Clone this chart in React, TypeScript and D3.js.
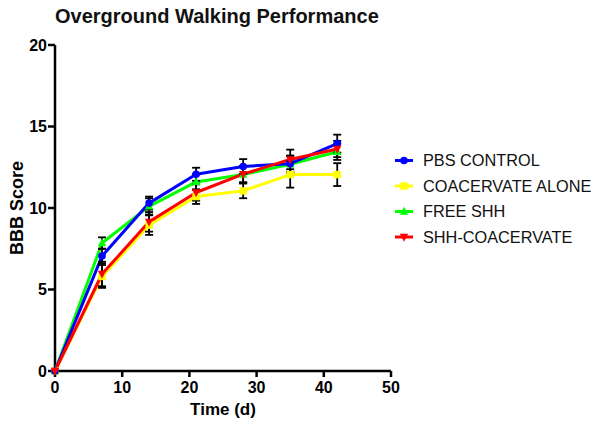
import React from "react";
import * as d3 from "d3";

const days = [0, 7, 14, 21, 28, 35, 42];
const seriesNames = ["PBS CONTROL", "COACERVATE ALONE", "FREE SHH", "SHH-COACERVATE"];
const pbsValues = [0, 7.05, 10.3, 12.07, 12.55, 12.72, 13.95];
const pbsErr = [0, 0.45, 0.4, 0.4, 0.45, 0.5, 0.55];
const coacValues = [0, 5.8, 8.95, 10.7, 11.05, 12.05, 12.05];
const coacErr = [0, 0.7, 0.6, 0.45, 0.45, 0.8, 0.7];
const shhValues = [0, 7.85, 10.1, 11.6, 12.05, 12.68, 13.45];
const shhErr = [0, 0.35, 0.5, 0.5, 0.5, 0.5, 0.5];
const shhCoacValues = [0, 5.95, 9.15, 10.95, 12.08, 12.98, 13.62];
const shhCoacErr = [0, 0.75, 0.6, 0.5, 0.5, 0.6, 0.5];
const xTicks = [0, 10, 20, 30, 40, 50];
const yTicks = [0, 5, 10, 15, 20];

const colors = ["#0000ff", "#ffff00", "#00ff00", "#ff0000"];
const shapes = ["circle", "square", "triUp", "triDown"];

export default function App() {
  const x = d3.scaleLinear().domain([0, 50]).range([55, 391]);
  const y = d3.scaleLinear().domain([0, 20]).range([371, 45]);
  const allVals = [pbsValues, coacValues, shhValues, shhCoacValues];
  const allErr = [pbsErr, coacErr, shhErr, shhCoacErr];
  const line = d3.line<number>().x((_, i) => x(days[i])).y((v) => y(v));
  const drawOrder = [1, 2, 0, 3];
  const font = "Arial, 'Liberation Sans', Helvetica, sans-serif";

  const marker = (shape: string, cx: number, cy: number, color: string, key: string) => {
    const s = 4.2;
    if (shape === "circle") return <circle key={key} cx={cx} cy={cy} r={3.8} fill={color} />;
    if (shape === "square") return <rect key={key} x={cx - 3.7} y={cy - 3.7} width={7.4} height={7.4} fill={color} />;
    if (shape === "triUp")
      return <path key={key} d={`M${cx},${cy - s - 0.5}L${cx + s},${cy + s - 1}L${cx - s},${cy + s - 1}Z`} fill={color} />;
    return <path key={key} d={`M${cx},${cy + s + 0.5}L${cx + s},${cy - s + 1}L${cx - s},${cy - s + 1}Z`} fill={color} />;
  };

  return (
    <svg width={602} height={428} style={{ position: "absolute", left: 0, top: 0, background: "#fff" }} fontFamily={font}>
      <rect width={602} height={428} fill="#fff" />
      <text x={55} y={23} fontSize={20} fontWeight="bold" fill="#111">Overground Walking Performance</text>
      {/* axes */}
      <line x1={55} y1={y(20)} x2={55} y2={y(0)} stroke="#000" strokeWidth={2.5} />
      <line x1={55} y1={y(0)} x2={x(50)} y2={y(0)} stroke="#000" strokeWidth={2.5} />
      {yTicks.map((t) => (
        <g key={"y" + t}>
          <line x1={48} x2={55} y1={y(t)} y2={y(t)} stroke="#000" strokeWidth={2.5} />
          <text x={47} y={y(t)} dy="0.36em" textAnchor="end" fontSize={16} fontWeight="bold">{t}</text>
        </g>
      ))}
      {xTicks.map((t) => (
        <g key={"x" + t}>
          <line x1={x(t)} x2={x(t)} y1={y(0)} y2={y(0) + 6} stroke="#000" strokeWidth={2.5} />
          <text x={x(t)} y={393} textAnchor="middle" fontSize={16} fontWeight="bold">{t}</text>
        </g>
      ))}
      <text x={223} y={415} textAnchor="middle" fontSize={17} fontWeight="bold">Time (d)</text>
      <text transform={`translate(23,${y(10)}) rotate(-90)`} textAnchor="middle" fontSize={18} fontWeight="bold">BBB Score</text>
      {/* lines */}
      {drawOrder.map((si) => (
        <path key={"l" + si} d={line(allVals[si]) || ""} fill="none" stroke={colors[si]} strokeWidth={3} strokeLinejoin="round" />
      ))}
      {/* error bars */}
      {drawOrder.map((si) =>
        allVals[si].map((v, i) => {
          const e = allErr[si][i];
          if (!e) return null;
          const cx = x(days[i]);
          return (
            <g key={"e" + si + "-" + i} stroke="#000" strokeWidth={1.8}>
              <line x1={cx} x2={cx} y1={y(v + e)} y2={y(v - e)} />
              <line x1={cx - 4} x2={cx + 4} y1={y(v + e)} y2={y(v + e)} />
              <line x1={cx - 4} x2={cx + 4} y1={y(v - e)} y2={y(v - e)} />
            </g>
          );
        })
      )}
      {/* markers */}
      {drawOrder.map((si) =>
        allVals[si].map((v, i) => marker(shapes[si], x(days[i]), y(v), colors[si], "m" + si + "-" + i))
      )}
      {/* legend */}
      {seriesNames.map((n, i) => {
        const ly = 160.5 + i * 25.5;
        return (
          <g key={"lg" + i}>
            <line x1={395} x2={413} y1={ly} y2={ly} stroke={colors[i]} strokeWidth={3} />
            {marker(shapes[i], 404, ly, colors[i], "lm" + i)}
            <text x={423} y={ly} dy="0.36em" fontSize={16.3} fill="#111">{n}</text>
          </g>
        );
      })}
    </svg>
  );
}
